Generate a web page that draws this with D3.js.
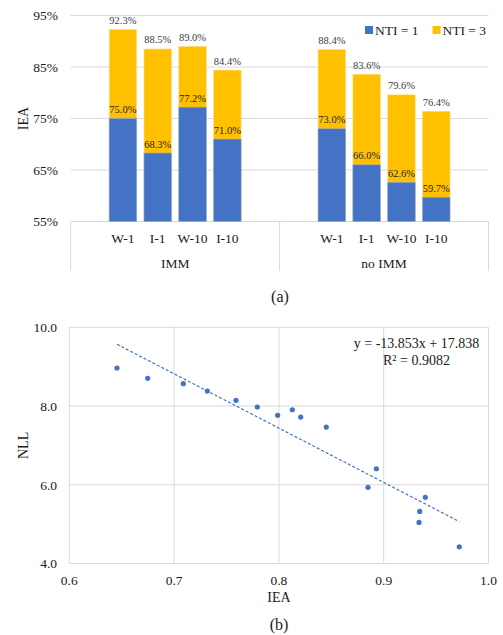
<!DOCTYPE html>
<html>
<head>
<meta charset="utf-8">
<script src="https://cdn.jsdelivr.net/npm/d3@7"></script>
<style>
  html, body { margin: 0; padding: 0; background: #fff; }
  svg { display: block; font-family: "Liberation Serif", "Times New Roman", serif; }
</style>
</head>
<body>
<svg id="fig" width="503" height="635"></svg>
<script>
// ---- (a) IEA by method, grouped by IMM / no IMM ----
const groups = ["IMM", "no IMM"];
const methods = ["W-1", "I-1", "W-10", "I-10"];
const nti1 = [[0.750, 0.683, 0.772, 0.710], [0.730, 0.660, 0.626, 0.597]];
const nti3 = [[0.923, 0.885, 0.890, 0.844], [0.884, 0.836, 0.796, 0.764]];
const pctTicks = [0.55, 0.65, 0.75, 0.85, 0.95];
const seriesNames = ["NTI = 1", "NTI = 3"];

// ---- (b) NLL vs IEA scatter with linear fit ----
const ieaVals = [0.6455, 0.6748, 0.7088, 0.7317, 0.7591, 0.7794, 0.7988, 0.8128,
                 0.8208, 0.8452, 0.8850, 0.8930, 0.9337, 0.9344, 0.9397, 0.9721];
const nllVals = [8.966, 8.704, 8.567, 8.381, 8.145, 7.975, 7.764, 7.906,
                 7.720, 7.466, 5.934, 6.407, 5.044, 5.324, 5.680, 4.424];
const fitSlope = -13.853, fitIntercept = 17.838, fitR2 = 0.9082;
const ieaTicks = [0.6, 0.7, 0.8, 0.9, 1.0];
const nllTicks = [4, 6, 8, 10];

const BLUE = "#4472C4", GOLD = "#FFC000", GRID = "#d9d9d9", TXT = "#1a1a1a";
const svg = d3.select("#fig");

// ===== chart (a) =====
const a = { left: 70.7, right: 488.5, top: 15.5, bottom: 221.5 };
const yA = d3.scaleLinear().domain([0.55, 0.95]).range([a.bottom, a.top]);
const xGroup = d3.scaleBand().domain(groups).range([a.left, a.right]);
const xInner = d3.scaleBand().domain(methods)
  .range([0, xGroup.bandwidth()]).paddingInner(0.21).paddingOuter(1.105);

const gA = svg.append("g");
gA.selectAll("line.grid").data(pctTicks).join("line")
  .attr("x1", a.left).attr("x2", a.right)
  .attr("y1", d => yA(d)).attr("y2", d => yA(d))
  .attr("stroke", GRID).attr("stroke-width", 1);
gA.selectAll("text.ytick").data(pctTicks).join("text")
  .attr("x", 58).attr("y", d => yA(d) + 4.8)
  .attr("text-anchor", "end").attr("font-size", 13.5).attr("fill", TXT)
  .text(d => d3.format(".0%")(d));
gA.append("text")
  .attr("transform", `translate(28,${(a.top + a.bottom) / 2}) rotate(-90)`)
  .attr("text-anchor", "middle").attr("font-size", 14).attr("fill", TXT).text("IEA");

const rows = [];
groups.forEach((g, gi) => methods.forEach((m, mi) => rows.push({
  g, m, v1: nti1[gi][mi], v3: nti3[gi][mi],
  x: xGroup(g) + xInner(m)
})));
const bw = xInner.bandwidth();

gA.selectAll("rect.n3").data(rows).join("rect")
  .attr("x", d => d.x).attr("width", bw)
  .attr("y", d => yA(d.v3)).attr("height", d => yA(0.55) - yA(d.v3))
  .attr("fill", GOLD).attr("stroke", "#ffe08a").attr("stroke-width", 0.6);
gA.selectAll("rect.n1").data(rows).join("rect")
  .attr("x", d => d.x).attr("width", bw)
  .attr("y", d => yA(d.v1)).attr("height", d => yA(0.55) - yA(d.v1))
  .attr("fill", BLUE).attr("stroke", "#8faadc").attr("stroke-width", 0.6);

const fmt1 = d3.format(".1%");
gA.selectAll("text.l3").data(rows).join("text")
  .attr("x", d => d.x + bw / 2).attr("y", d => yA(d.v3) - 5.5)
  .attr("text-anchor", "middle").attr("font-size", 10.5).attr("fill", "#404040")
  .text(d => fmt1(d.v3));
gA.selectAll("text.l1").data(rows).join("text")
  .attr("x", d => d.x + bw / 2).attr("y", d => yA(d.v1) - 5.5)
  .attr("text-anchor", "middle").attr("font-size", 10.5).attr("fill", "#262626")
  .text(d => fmt1(d.v1));

// multi-level category axis
gA.selectAll("line.div").data([a.left, xGroup("no IMM"), a.right]).join("line")
  .attr("x1", d => d).attr("x2", d => d)
  .attr("y1", a.bottom).attr("y2", 271)
  .attr("stroke", GRID).attr("stroke-width", 1);
gA.selectAll("text.cat").data(rows).join("text")
  .attr("x", d => d.x + bw / 2).attr("y", 243)
  .attr("text-anchor", "middle").attr("font-size", 13.5).attr("fill", TXT)
  .text(d => d.m);
gA.selectAll("text.grp").data(groups).join("text")
  .attr("x", d => xGroup(d) + xGroup.bandwidth() / 2).attr("y", 268)
  .attr("text-anchor", "middle").attr("font-size", 13.5).attr("fill", TXT)
  .text(d => d);

// legend
const legend = gA.append("g");
[[365, BLUE, seriesNames[0]], [432.5, GOLD, seriesNames[1]]].forEach(([lx, c, t]) => {
  legend.append("rect").attr("x", lx).attr("y", 26).attr("width", 8).attr("height", 8).attr("fill", c);
  legend.append("text").attr("x", lx + 10).attr("y", 34.8)
    .attr("font-size", 13.5).attr("fill", TXT).text(t);
});

svg.append("text").attr("x", 280).attr("y", 301.5).attr("text-anchor", "middle")
  .attr("font-size", 16).attr("fill", TXT).text("(a)");

// ===== chart (b) =====
const b = { left: 69.3, right: 488.5, top: 327.3, bottom: 563.5 };
const xB = d3.scaleLinear().domain([0.6, 1.0]).range([b.left, b.right]);
const yB = d3.scaleLinear().domain([4, 10]).range([b.bottom, b.top]);
const gB = svg.append("g");

gB.selectAll("line.vg").data(ieaTicks).join("line")
  .attr("x1", d => xB(d)).attr("x2", d => xB(d))
  .attr("y1", b.top).attr("y2", b.bottom).attr("stroke", GRID);
gB.selectAll("line.hg").data(nllTicks).join("line")
  .attr("x1", b.left).attr("x2", b.right)
  .attr("y1", d => yB(d)).attr("y2", d => yB(d)).attr("stroke", GRID);

gB.selectAll("text.xt").data(ieaTicks).join("text")
  .attr("x", d => xB(d)).attr("y", 585)
  .attr("text-anchor", "middle").attr("font-size", 13.5).attr("fill", TXT)
  .text(d => d3.format(".1f")(d));
gB.selectAll("text.yt").data(nllTicks).join("text")
  .attr("x", 57).attr("y", d => yB(d) + 4.8)
  .attr("text-anchor", "end").attr("font-size", 13.5).attr("fill", TXT)
  .text(d => d3.format(".1f")(d));
gB.append("text").attr("x", (b.left + b.right) / 2).attr("y", 602)
  .attr("text-anchor", "middle").attr("font-size", 14).attr("fill", TXT).text("IEA");
gB.append("text")
  .attr("transform", `translate(28,${(b.top + b.bottom) / 2}) rotate(-90)`)
  .attr("text-anchor", "middle").attr("font-size", 14).attr("fill", TXT).text("NLL");

// least-squares trendline through the plotted points, over the data range
const mx = d3.mean(ieaVals), my = d3.mean(nllVals);
const sxy = d3.sum(ieaVals, (x, i) => (x - mx) * (nllVals[i] - my));
const sxx = d3.sum(ieaVals, x => (x - mx) * (x - mx));
const lsSlope = sxy / sxx, lsIntercept = my - lsSlope * mx;
const xr = d3.extent(ieaVals);
gB.append("line")
  .attr("x1", xB(xr[0])).attr("y1", yB(lsSlope * xr[0] + lsIntercept))
  .attr("x2", xB(xr[1])).attr("y2", yB(lsSlope * xr[1] + lsIntercept))
  .attr("stroke", BLUE).attr("stroke-width", 1.2).attr("stroke-dasharray", "3,2");

gB.selectAll("circle").data(d3.zip(ieaVals, nllVals)).join("circle")
  .attr("cx", d => xB(d[0])).attr("cy", d => yB(d[1])).attr("r", 2.6)
  .attr("fill", BLUE);

gB.append("text").attr("x", 416.5).attr("y", 347.5).attr("text-anchor", "middle")
  .attr("font-size", 14).attr("fill", TXT)
  .text(`y = ${fitSlope.toFixed(3)}x + ${fitIntercept.toFixed(3)}`);
gB.append("text").attr("x", 416.5).attr("y", 364.5).attr("text-anchor", "middle")
  .attr("font-size", 14).attr("fill", TXT)
  .text(`R² = ${fitR2.toFixed(4)}`);

svg.append("text").attr("x", 279).attr("y", 630).attr("text-anchor", "middle")
  .attr("font-size", 16).attr("fill", TXT).text("(b)");
</script>
</body>
</html>
